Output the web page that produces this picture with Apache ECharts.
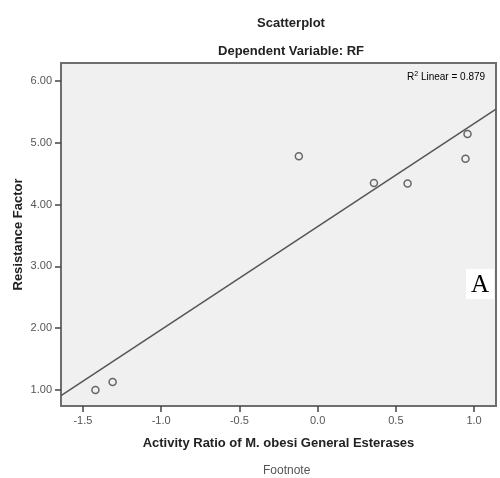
<!DOCTYPE html>
<html>
<head>
<meta charset="utf-8">
<script src="https://cdn.jsdelivr.net/npm/echarts@6/dist/echarts.min.js"></script>
<style>
  html, body { margin: 0; padding: 0; background: #fff; }
  #chart { width: 500px; height: 478px; }
</style>
</head>
<body>
<div id="chart"></div>
<script>
// activity ratio (x) vs resistance factor (y)
var activityRatio = [-1.42, -1.31, -0.12, 0.36, 0.575, 0.945, 0.958];
var resistance = [1.00, 1.13, 4.78, 4.35, 4.34, 4.74, 5.14];
var xTicks = [-1.5, -1.0, -0.5, 0.0, 0.5, 1.0];
var yTicks = [1, 2, 3, 4, 5, 6];
var r2Text = '0.879';

var xMin = -1.64, xMax = 1.14;
var yMin = 0.74, yMax = 6.29;

// least squares fit line
function fitLine(xs, ys) {
  var n = xs.length, mx = 0, my = 0;
  for (var i = 0; i < n; i++) { mx += xs[i]; my += ys[i]; }
  mx /= n; my /= n;
  var sxy = 0, sxx = 0;
  for (var j = 0; j < n; j++) {
    sxy += (xs[j] - mx) * (ys[j] - my);
    sxx += (xs[j] - mx) * (xs[j] - mx);
  }
  var b = sxy / sxx;
  return { a: my - b * mx, b: b };
}
var fit = fitLine(activityRatio, resistance);

var points = activityRatio.map(function (x, i) { return [x, resistance[i]]; });
var fitData = [[xMin, fit.a + fit.b * xMin], [xMax, fit.a + fit.b * xMax]];

var font = 'Liberation Sans, Arial, sans-serif';
var chart = echarts.init(document.getElementById('chart'));
var option = {
  backgroundColor: '#fff',
  animation: false,
  title: [{
    text: 'Scatterplot',
    left: 286, textAlign: 'center', top: 12,
    textStyle: { fontFamily: font, fontSize: 13, fontWeight: 'bold', color: '#222' }
  }, {
    text: 'Dependent Variable: RF',
    left: 286, textAlign: 'center', top: 40,
    textStyle: { fontFamily: font, fontSize: 13, fontWeight: 'bold', color: '#222' }
  }],
  grid: {
    left: 61, right: 4, top: 63, bottom: 72,
    show: true, backgroundColor: '#f0f0f0', borderColor: '#6e6e6e', borderWidth: 2
  },
  xAxis: {
    type: 'value', min: xMin, max: xMax,
    name: 'Activity Ratio of M. obesi General Esterases',
    nameLocation: 'middle', nameGap: 31, nameMoveOverlap: false,
    nameTextStyle: { fontFamily: font, fontSize: 13, fontWeight: 'bold', color: '#222' },
    splitLine: { show: false },
    axisLine: { show: true, onZero: false, lineStyle: { color: '#6e6e6e', width: 2 } },
    axisTick: { show: true, customValues: xTicks, length: 6, lineStyle: { color: '#444', width: 1.5 } },
    axisLabel: {
      customValues: xTicks, margin: 9, fontFamily: font, fontSize: 11, color: '#555',
      formatter: function (v) { return v.toFixed(1); }
    }
  },
  yAxis: {
    type: 'value', min: yMin, max: yMax,
    name: 'Resistance Factor',
    nameLocation: 'middle', nameGap: 36, nameMoveOverlap: false,
    nameTextStyle: { fontFamily: font, fontSize: 13, fontWeight: 'bold', color: '#222' },
    splitLine: { show: false },
    axisLine: { show: true, onZero: false, lineStyle: { color: '#6e6e6e', width: 2 } },
    axisTick: { show: true, customValues: yTicks, length: 6, lineStyle: { color: '#444', width: 1.5 } },
    axisLabel: {
      customValues: yTicks, margin: 9, fontFamily: font, fontSize: 11, color: '#555',
      formatter: function (v) { return v.toFixed(2); }
    }
  },
  graphic: [{
    type: 'text', left: 407, top: 71,
    style: {
      text: '{t|R}{s|2}{t| Linear = ' + r2Text + '}',
      rich: {
        t: { fontFamily: font, fontSize: 10, color: '#333' },
        s: { fontFamily: font, fontSize: 7, color: '#333', verticalAlign: 'top', padding: [0, 0, 5, 0] }
      }
    }
  }, {
    type: 'group', left: 466, top: 269,
    children: [{
      type: 'rect', shape: { x: 0, y: 0, width: 28, height: 30 },
      style: { fill: '#fff' }
    }, {
      type: 'text', x: 14, y: 16,
      style: {
        text: 'A', fontFamily: 'Liberation Serif, Times New Roman, serif', fontSize: 25,
        fill: '#000', align: 'center', verticalAlign: 'middle'
      }
    }]
  }, {
    type: 'text', left: 263, top: 465,
    style: { text: 'Footnote', fontFamily: font, fontSize: 12, fill: '#555' }
  }],
  series: [{
    type: 'line',
    data: fitData,
    symbol: 'none',
    clip: true,
    lineStyle: { color: '#555', width: 1.5 }
  }, {
    type: 'scatter',
    data: points,
    symbol: 'circle',
    symbolSize: 7,
    itemStyle: { color: 'rgba(0,0,0,0)', borderColor: '#444', borderWidth: 1.5 }
  }]
};
chart.setOption(option);
</script>
</body>
</html>
